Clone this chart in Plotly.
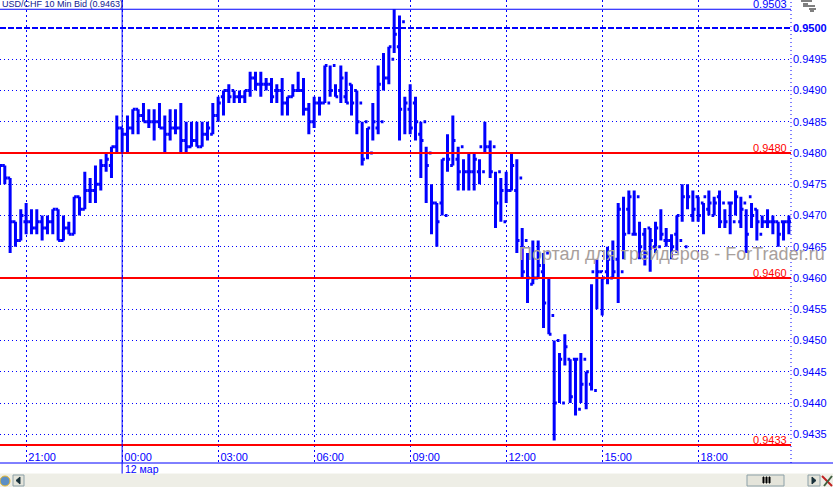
import pandas as pd
import plotly.graph_objects as go

# 10-minute bars of USD/CHF, in pips above 0.9000, first bar 20:10 on 11 March
highs = [478,478,476,469,471,472,471,471,470,470,471,471,470,469,473,473,477,476,478,479,480,481,486,
         484,486,487,487,488,487,487,488,486,487,487,488,485,485,485,485,485,488,489,490,491,490,490,490,
         493,493,493,492,492,491,492,489,491,493,492,488,489,489,494,494,491,494,493,491,490,485,484,488,
         494,496,497,503,502,489,491,489,485,481,475,472,479,483,486,481,479,480,480,479,485,482,477,476,
         477,480,479,468,464,466,466,464,460,450,448,451,447,447,448,445,459,463,460,465,466,472,473,474,
         474,469,468,468,469,471,468,467,470,475,475,474,473,472,474,473,474,471,472,474,473,471,472,471,
         470,471,470,469,469,470]
lows = [475,475,464,465,466,467,467,467,466,467,467,466,466,467,467,470,471,472,472,474,477,476,480,
        480,480,483,483,485,484,482,484,480,482,483,480,480,481,481,481,482,483,485,486,488,488,488,488,
        489,490,489,490,488,488,486,486,489,490,486,483,484,486,488,489,489,488,488,486,483,478,479,482,
        483,490,491,496,482,483,483,482,476,472,467,465,470,477,478,474,474,474,474,475,480,476,468,469,
        472,474,464,460,456,459,460,452,451,434,440,446,440,438,440,439,442,455,454,459,460,456,463,467,
        467,463,462,461,464,466,465,463,464,469,471,469,469,467,470,470,468,468,467,470,468,464,468,466,
        468,468,467,465,466,467]
opens = [477,478,476,469,466,469,469,468,469,468,469,471,466,468,467,473,471,474,474,475,478,478,481,
         484,483,484,487,486,485,485,485,484,483,484,484,482,481,482,481,483,483,486,489,490,490,489,489,
         490,492,491,491,491,490,490,488,489,490,490,487,485,488,488,488,494,490,489,491,490,488,485,480,
         484,485,492,495,497,501,487,488,483,485,480,472,472,470,478,479,481,477,477,477,477,481,481,477,
         469,474,474,476,466,459,460,461,464,454,450,440,447,447,439,447,443,442,461,461,460,463,461,471,
         467,473,467,468,465,465,466,466,467,466,465,470,473,472,471,470,473,472,472,469,469,472,473,471,
         467,469,469,469,469,469]
closes = [478,476,469,466,470,469,468,469,468,469,471,466,468,467,473,471,474,474,475,478,479,481,484,
          483,484,487,486,485,485,485,484,483,484,484,482,481,482,481,483,484,486,488,490,489,489,489,490,
          492,491,491,491,489,490,488,489,490,490,487,485,488,488,494,490,489,492,488,488,485,479,484,485,
          491,492,497,499,487,488,484,485,482,478,472,469,479,479,482,477,477,477,479,481,481,477,472,474,
          474,478,466,461,460,460,462,456,451,440,447,449,441,447,443,445,461,461,460,463,461,471,467,473,
          467,465,464,466,468,467,466,465,470,473,473,471,470,473,472,472,469,469,472,473,471,467,470,469,
          469,469,469,467,469,469]

first_bar = "2008-03-11 20:10"
time_ticks = ["2008-03-11 21:00", "2008-03-12 00:00", "2008-03-12 03:00", "2008-03-12 06:00",
              "2008-03-12 09:00", "2008-03-12 12:00", "2008-03-12 15:00", "2008-03-12 18:00"]
time_labels = ["21:00", "00:00", "03:00", "06:00", "09:00", "12:00", "15:00", "18:00"]
price_ticks = [0.9435, 0.9440, 0.9445, 0.9450, 0.9455, 0.9460, 0.9465, 0.9470,
               0.9475, 0.9480, 0.9485, 0.9490, 0.9495, 0.9500]
price_labels = ["0.9435", "0.9440", "0.9445", "0.9450", "0.9455", "0.9460", "0.9465", "0.9470",
                "0.9475", "0.9480", "0.9485", "0.9490", "0.9495", "<b>0.9500</b>"]
red_levels = [0.9480, 0.9460, 0.94333]
red_labels = ["0.9480", "0.9460", "0.9433"]
high_level = 0.9503
high_label = "0.9503"
dashed_level = 0.9500
day_start = "2008-03-12 00:00"
day_label = "12 мар"
title_text = "USD/CHF 10 Min Bid (0.9463)"
watermark = "Портал для трейдеров - ForTrader.ru"

W, H = 833, 487
R, B = 42, 24
PW, PH = W - R, H - B
BLUE = "#0000FF"
RED = "#FF0000"
FONT = "Liberation Sans"

n = min(len(highs), len(lows), len(opens), len(closes))
times = pd.date_range(first_bar, periods=n, freq="10min")
pr = lambda a: [0.9 + v / 10000 for v in a[:n]]
opx, hpx, lpx, cpx = pr(opens), pr(highs), pr(lows), pr(closes)

# Pixel helpers for window furniture only (plot area is 0..PW, 0..PH from the top left)
px = lambda x: x / PW
py = lambda y: 1 - y / PH

fig = go.Figure(go.Ohlc(
    x=times, open=opx, high=hpx, low=lpx, close=cpx, tickwidth=0.5,
    increasing=dict(line=dict(color=BLUE, width=3)),
    decreasing=dict(line=dict(color=BLUE, width=3)),
    hoverinfo="skip", showlegend=False))

shapes = []
def line(**k):
    style = k.pop("style")
    shapes.append(dict(type="line", layer="above", line=style, **k))

for lv in red_levels:
    line(xref="paper", x0=0, x1=1, yref="y", y0=lv, y1=lv, style=dict(color=RED, width=2))
line(xref="paper", x0=0, x1=1, yref="y", y0=dashed_level, y1=dashed_level,
     style=dict(color=BLUE, width=2, dash="6px,2px"))
line(xref="paper", x0=0, x1=1, yref="y", y0=high_level, y1=high_level, style=dict(color=BLUE, width=1))
line(xref="paper", x0=1, x1=1, yref="paper", y0=0, y1=1, style=dict(color=BLUE, width=1, dash="1px,3px"))
line(xref="paper", x0=0, x1=px(W), yref="paper", y0=0, y1=0, style=dict(color=BLUE, width=1))
line(xref="x", x0=day_start, x1=day_start, yref="paper", y0=py(474), y1=1, style=dict(color=BLUE, width=1))

def box(x0, y0, x1, y1, fill, edge=None):
    shapes.append(dict(type="rect", layer="above", xref="paper", yref="paper",
                       x0=px(x0), x1=px(x1), y0=py(y0), y1=py(y1), fillcolor=fill,
                       line=dict(color=edge or fill, width=1)))

def poly(points, fill):
    path = "M" + " L".join(f"{px(a):.5f},{py(b):.5f}" for a, b in points) + " Z"
    shapes.append(dict(type="path", layer="above", xref="paper", yref="paper", path=path,
                       fillcolor=fill, line=dict(color=fill, width=1)))

# scrollbar strip and its buttons
box(0, 474, W, H, "#EEEEE6")
shapes.append(dict(type="circle", layer="above", xref="paper", yref="paper", x0=px(0), x1=px(10),
                   y0=py(476), y1=py(486), fillcolor="#5C8FC4", line=dict(color="#E8B830", width=1)))
box(13, 475, 24, 486, "#E4E4DA", "#8CA0A8")
poly([(20, 477), (20, 484), (16, 480.5)], "#18303A")
box(747, 475, 784, 486, "#E4E4DA", "#8CA0A8")
for gx in (763, 766, 769):
    box(gx, 477, gx + 1, 483, "#000000")
box(808, 475, 820, 486, "#E4E4DA", "#8CA0A8")
poly([(812, 477), (812, 484), (816, 480.5)], "#18303A")
for a, b, c, d, col in ((822, 476, 832, 486, "#C02020"), (832, 476, 824, 486, "#406040")):
    shapes.append(dict(type="line", layer="above", xref="paper", yref="paper", x0=px(a), x1=px(c),
                       y0=py(b), y1=py(d), line=dict(color=col, width=2)))
# corner icon
for y0, x0, x1 in ((1, 801, 812), (4, 803, 808), (6, 803, 815), (9, 809, 816), (11, 810, 814)):
    shapes.append(dict(type="line", layer="above", xref="paper", yref="paper", x0=px(x0), x1=px(x1),
                       y0=py(y0), y1=py(y0), line=dict(color="#000000", width=1)))

ann = []
ann.append(dict(text=title_text, xref="paper", yref="paper", x=px(0), y=py(4), xanchor="left", yanchor="middle",
                showarrow=False, font=dict(family=FONT, size=9, color="#102090")))
ann.append(dict(text=high_label, xref="paper", yref="y", x=1, y=high_level, xanchor="right", yanchor="bottom",
                xshift=-2, yshift=-3, showarrow=False, font=dict(family=FONT, size=11, color=BLUE)))
for lv, tx in zip(red_levels, red_labels):
    ann.append(dict(text=tx, xref="paper", yref="y", x=1, y=lv, xanchor="right", yanchor="bottom",
                    xshift=-2, yshift=-3, showarrow=False, font=dict(family=FONT, size=11, color=RED)))
ann.append(dict(text=day_label, xref="x", yref="paper", x=day_start, y=py(468.5), xanchor="left", yanchor="middle",
                xshift=1, showarrow=False, font=dict(family=FONT, size=10.5, color=BLUE)))
ann.append(dict(text=watermark, xref="paper", yref="paper", x=px(517), y=py(254), xanchor="left", yanchor="middle",
                showarrow=False, font=dict(family=FONT, size=18, color="#A8A09C")))

fig.update_layout(
    width=W, height=H, margin=dict(l=0, r=R, t=0, b=B, pad=0),
    paper_bgcolor="white", plot_bgcolor="white", showlegend=False,
    shapes=shapes, annotations=ann,
    xaxis=dict(range=["2008-03-11 20:11", "2008-03-12 20:54"], rangeslider=dict(visible=False),
               tickmode="array", tickvals=time_ticks, ticktext=time_labels,
               ticklabelposition="inside", ticklabelshift=16, ticklabelstandoff=-3, ticks="",
               showgrid=True, gridcolor=BLUE, griddash="2px,3px", gridwidth=1, zeroline=False,
               tickfont=dict(family=FONT, size=11, color=BLUE), showline=False),
    yaxis=dict(side="right", range=[0.94304, 0.950448], tickmode="array",
               tickvals=price_ticks, ticktext=price_labels, ticks="", ticklabelstandoff=1,
               showgrid=True, gridcolor=BLUE, griddash="1px,3px", gridwidth=1, zeroline=False,
               tickfont=dict(family=FONT, size=11, color=BLUE), showline=False),
)
fig.write_html("out.html", config=dict(displayModeBar=False),
               post_script="document.body.style.margin='0';")
